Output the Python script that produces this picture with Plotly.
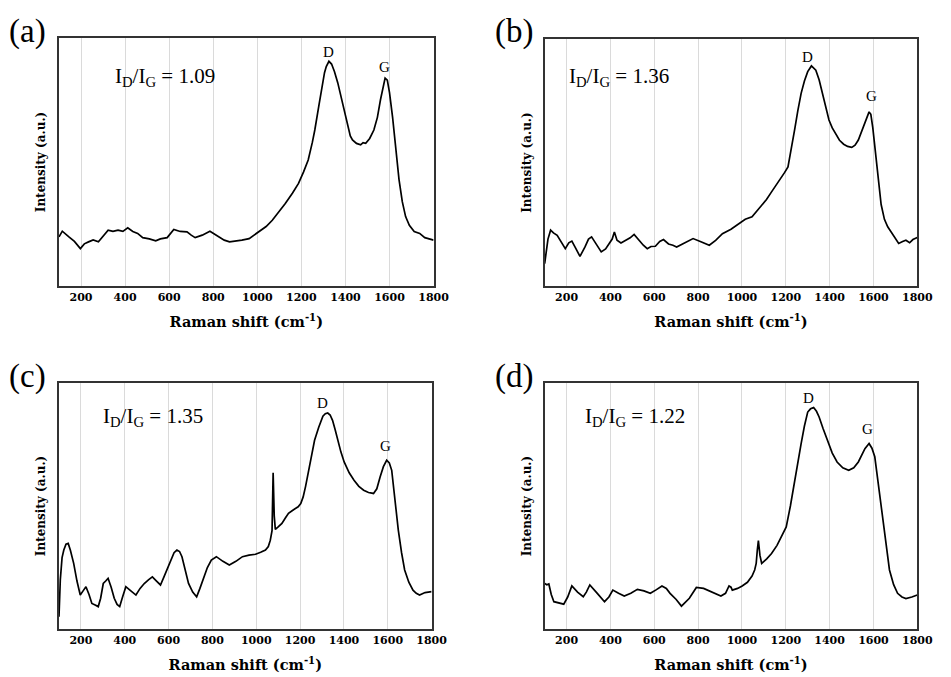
import plotly.graph_objects as go

# ---------------- data ----------------
x_a = [100, 115, 145, 170, 197, 215, 234, 255, 279, 300,
       323, 345, 368, 390, 412, 435, 457, 480, 510, 539,
       560, 591, 621, 650, 681, 700, 718, 750, 785, 805,
       829, 850, 874, 900, 930, 963, 985, 1008, 1040, 1068,
       1100, 1127, 1160, 1187, 1210, 1231, 1250, 1261, 1280, 1291,
       1305, 1313, 1325, 1337, 1350, 1365, 1380, 1395, 1410, 1422,
       1432, 1450, 1469, 1480, 1492, 1510, 1529, 1545, 1559, 1570,
       1580, 1590, 1600, 1614, 1628, 1643, 1658, 1673, 1690, 1712,
       1737, 1760, 1780, 1800]
y_a = [19.8, 22.1, 19.8, 18.0, 15.1, 17.0, 17.8, 18.6, 17.8, 20.0,
       22.5, 22.0, 22.5, 22.0, 23.5, 22.0, 21.2, 19.5, 19.0, 18.2,
       19.0, 19.5, 22.8, 22.0, 21.8, 20.5, 19.5, 20.5, 22.1, 21.0,
       19.5, 18.5, 17.8, 18.0, 18.5, 19.1, 20.5, 21.8, 24.0, 26.5,
       30.0, 33.3, 37.5, 41.4, 46.0, 50.8, 58.0, 62.9, 73.0, 79.1,
       86.0, 88.5, 90.6, 89.5, 86.5, 82.0, 76.4, 70.0, 64.3, 60.5,
       58.9, 57.5, 56.9, 57.8, 57.5, 59.5, 62.9, 68.0, 75.1, 80.0,
       83.8, 83.0, 78.0, 68.0, 55.0, 43.0, 34.0, 28.0, 24.5, 22.0,
       21.2, 19.5, 19.0, 18.5]

x_b = [100, 107, 115, 127, 140, 157, 175, 194, 210, 224,
       240, 261, 284, 300, 314, 335, 358, 378, 396, 408,
       418, 430, 448, 470, 490, 508, 530, 550, 568, 585,
       605, 625, 642, 665, 685, 702, 740, 777, 810, 851,
       880, 911, 950, 986, 1015, 1046, 1070, 1090, 1112, 1135,
       1158, 1180, 1195, 1210, 1225, 1240, 1255, 1270, 1285, 1300,
       1317, 1337, 1352, 1367, 1382, 1397, 1412, 1427, 1445, 1464,
       1482, 1501, 1516, 1531, 1546, 1561, 1572, 1580, 1588, 1597,
       1608, 1620, 1635, 1650, 1665, 1680, 1698, 1715, 1733, 1748,
       1765, 1780, 1800]
y_b = [9.1, 13.1, 19.0, 22.6, 21.5, 20.5, 18.0, 15.1, 17.5, 18.2,
       15.5, 12.0, 15.8, 19.0, 19.9, 17.0, 13.8, 15.0, 17.2, 19.0,
       21.9, 18.5, 17.4, 18.5, 19.5, 20.9, 18.5, 16.5, 15.1, 16.0,
       16.1, 18.0, 18.8, 17.0, 16.5, 15.8, 17.5, 19.2, 18.0, 16.5,
       18.5, 21.2, 23.0, 25.3, 27.0, 28.0, 30.5, 32.7, 35.0, 38.1,
       41.0, 44.2, 46.0, 48.2, 55.0, 63.1, 71.0, 78.0, 83.0, 86.8,
       89.1, 87.4, 83.5, 78.0, 72.5, 67.2, 64.0, 61.8, 59.0, 57.4,
       56.5, 56.1, 57.0, 59.1, 62.5, 66.5, 68.5, 70.5, 69.5, 64.0,
       55.0, 44.0, 33.0, 27.0, 24.0, 22.0, 19.5, 17.2, 18.0, 18.5,
       17.5, 18.8, 19.6]

x_c = [100, 106, 114, 122, 132, 142, 152, 167, 182, 197,
       210, 223, 237, 250, 265, 279, 290, 302, 313, 324,
       338, 352, 365, 377, 390, 405, 421, 436, 451, 470,
       489, 508, 526, 545, 563, 578, 593, 610, 625, 638,
       650, 661, 676, 691, 710, 728, 743, 758, 777, 795,
       818, 848, 877, 907, 937, 967, 997, 1020, 1042, 1055,
       1064, 1072, 1077, 1082, 1087, 1100, 1117, 1132, 1147, 1170,
       1191, 1203, 1214, 1225, 1236, 1251, 1266, 1285, 1304, 1315,
       1326, 1337, 1348, 1360, 1371, 1386, 1401, 1424, 1446, 1468,
       1490, 1512, 1535, 1550, 1565, 1580, 1595, 1607, 1618, 1633,
       1648, 1663, 1677, 1696, 1715, 1730, 1745, 1770, 1800]
y_c = [5.0, 20.0, 29.0, 32.1, 34.5, 34.8, 32.0, 26.7, 19.5, 13.8,
       15.5, 17.2, 14.0, 10.4, 9.8, 9.1, 12.5, 18.5, 19.5, 20.6,
       17.0, 12.5, 10.0, 9.1, 13.0, 17.2, 16.0, 15.0, 13.8, 16.5,
       18.5, 20.0, 21.2, 19.5, 17.9, 21.0, 24.0, 28.0, 31.0, 32.1,
       31.5, 29.4, 24.0, 18.5, 15.0, 13.1, 16.5, 20.6, 25.0, 28.0,
       29.4, 27.5, 26.0, 27.5, 29.4, 30.0, 30.4, 31.2, 32.1, 33.5,
       36.1, 40.0, 63.5, 46.0, 40.5, 41.5, 42.9, 45.0, 47.0, 48.5,
       49.7, 51.0, 53.7, 58.0, 63.2, 70.0, 76.7, 82.0, 86.5, 87.5,
       87.8, 87.0, 84.8, 81.0, 76.7, 72.0, 67.9, 63.5, 60.5, 58.0,
       56.4, 55.5, 55.1, 57.0, 61.8, 66.0, 68.6, 67.5, 64.5, 52.0,
       40.2, 31.0, 24.0, 19.0, 15.8, 14.5, 13.8, 14.8, 15.2]

x_d = [100, 110, 119, 130, 142, 165, 187, 205, 224, 250,
       276, 290, 306, 340, 373, 393, 411, 437, 463, 493,
       523, 553, 582, 610, 635, 655, 672, 700, 724, 760,
       792, 825, 859, 882, 904, 925, 941, 950, 956, 980,
       1001, 1025, 1046, 1058, 1065, 1070, 1075, 1082, 1090, 1113,
       1135, 1160, 1180, 1192, 1202, 1221, 1240, 1255, 1270, 1285,
       1300, 1313, 1327, 1340, 1352, 1370, 1389, 1412, 1434, 1460,
       1487, 1510, 1531, 1546, 1561, 1580, 1593, 1606, 1621, 1636,
       1655, 1673, 1692, 1710, 1730, 1748, 1775, 1800]
y_d = [18.5, 18.0, 18.3, 14.0, 11.1, 10.5, 10.1, 13.0, 17.5, 15.0,
       13.1, 15.0, 17.9, 14.5, 11.1, 13.0, 15.8, 14.5, 13.4, 14.5,
       16.1, 15.5, 14.5, 16.0, 17.5, 16.5, 14.5, 12.0, 9.3, 12.5,
       16.9, 16.5, 15.2, 14.0, 13.4, 14.5, 17.5, 17.0, 15.8, 16.5,
       17.5, 19.0, 21.5, 24.0, 26.7, 32.0, 35.9, 30.0, 26.7, 28.5,
       30.7, 34.0, 37.5, 39.5, 41.5, 50.0, 60.5, 68.5, 75.4, 82.5,
       88.2, 89.5, 90.0, 88.5, 86.2, 81.5, 76.7, 71.5, 67.9, 65.5,
       64.5, 65.5, 67.9, 70.5, 73.3, 75.4, 73.5, 70.0, 60.0, 49.7,
       36.0, 24.0, 18.0, 14.5, 13.0, 12.4, 13.0, 13.8]

panel_letters = ["(a)", "(b)", "(c)", "(d)"]
ratios = ["1.09", "1.36", "1.35", "1.22"]
tick_vals = [200, 400, 600, 800, 1000, 1200, 1400, 1600, 1800]
tick_text = ["200", "400", "600", "800", "1000", "1200", "1400", "1600", "1800"]

# label positions (data coordinates of each panel)
ratio_pos = [(345, 84.3), (203, 84.6), (293, 86.2), (275, 86.2)]
d_pos = [(1325, 94.4), (1300, 92.7), (1302, 91.9), (1302, 93.9)]
g_pos = [(1577, 88.3), (1589, 76.9), (1589, 74.4), (1571, 81.3)]

# ---------------- figure ----------------
W, H = 951, 677
SERIF = "Liberation Serif"
WIDE = "DejaVu Serif"

xs = [x_a, x_b, x_c, x_d]
ys = [y_a, y_b, y_c, y_d]

# pixel boxes of plot areas: (left, right, top, bottom)
boxes = [(60, 441, 38, 286), (554, 933, 39, 286), (60, 439, 383, 629), (554, 933, 383, 629)]

fig = go.Figure()
layout = dict(
    width=W, height=H,
    margin=dict(l=0, r=0, t=0, b=0),
    paper_bgcolor="white", plot_bgcolor="white",
    showlegend=False,
    font=dict(family=SERIF, color="black"),
)
annotations = []
for i in range(4):
    ax = "" if i == 0 else str(i + 1)
    xa, ya = "x" + ax, "y" + ax
    fig.add_trace(go.Scatter(x=xs[i], y=ys[i], mode="lines",
                             line=dict(color="black", width=1.7),
                             xaxis=xa, yaxis=ya, hoverinfo="skip"))
    l, r, t, b = boxes[i]
    layout["xaxis" + ax] = dict(
        domain=[l / W, r / W], anchor=ya, range=[100, 1800],
        tickvals=tick_vals, ticktext=tick_text,
        tickfont=dict(family=WIDE, size=11, color="black", weight="bold"),
        showgrid=True, gridcolor="#dadada", gridwidth=1,
        showline=True, linecolor="#333333", linewidth=1.5, mirror=True,
        ticks="", zeroline=False,
        title=dict(text="Raman shift (cm<sup>-1</sup>)", standoff=14,
                   font=dict(family=WIDE, size=14.5, color="black", weight="bold")),
    )
    layout["yaxis" + ax] = dict(
        domain=[1 - b / H, 1 - t / H], anchor=xa, range=[0, 100],
        showticklabels=False, showgrid=False, ticks="", zeroline=False,
        showline=True, linecolor="#333333", linewidth=1.5, mirror=True,
        title=dict(text="Intensity (a.u.)", standoff=9,
                   font=dict(family=WIDE, size=12, color="black", weight="bold")),
    )
    # panel letter
    lx = 7 if i in (0, 2) else 501
    ly = 32 if i < 2 else 376
    annotations.append(dict(text=panel_letters[i], xref="paper", yref="paper",
                            x=lx / W, y=1 - ly / H, xanchor="left", yanchor="middle",
                            showarrow=False, font=dict(family=SERIF, size=33, color="black")))
    # I_D/I_G ratio
    annotations.append(dict(text="I<sub>D</sub>/I<sub>G</sub> = " + ratios[i], xref=xa, yref=ya,
                            x=ratio_pos[i][0], y=ratio_pos[i][1], xanchor="left", yanchor="middle",
                            showarrow=False, font=dict(family=SERIF, size=21, color="black")))
    annotations.append(dict(text="D", xref=xa, yref=ya, x=d_pos[i][0], y=d_pos[i][1],
                            xanchor="center", yanchor="middle", showarrow=False,
                            font=dict(family=SERIF, size=15, color="black")))
    annotations.append(dict(text="G", xref=xa, yref=ya, x=g_pos[i][0], y=g_pos[i][1],
                            xanchor="center", yanchor="middle", showarrow=False,
                            font=dict(family=SERIF, size=15, color="black")))

layout["annotations"] = annotations
fig.update_layout(**layout)
fig.write_html("out.html")
